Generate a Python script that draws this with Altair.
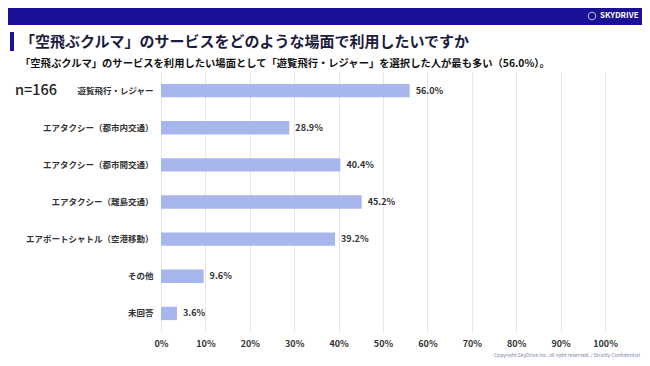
import altair as alt
import pandas as pd

categories = ["遊覧飛行・レジャー", "エアタクシー（都市内交通）", "エアタクシー（都市間交通）",
              "エアタクシー（離島交通）", "エアポートシャトル（空港移動）", "その他", "未回答"]
values = [56.0, 28.9, 40.4, 45.2, 39.2, 9.6, 3.6]
x_ticks = [0, 10, 20, 30, 40, 50, 60, 70, 80, 90, 100]

title = "「空飛ぶクルマ」のサービスをどのような場面で利用したいですか"
subtitle = "「空飛ぶクルマ」のサービスを利用したい場面として「遊覧飛行・レジャー」を選択した人が最も多い（56.0%）。"
n_label = "n=166"
copyright_txt = "Copyright SkyDrive Inc. all right reserved. / Strictly Confidential"
logo_txt = "SKYDRIVE"

FONT = "Noto Sans CJK JP"
df = pd.DataFrame({"cat": categories, "val": values,
                   "lab": [f"{v:.1f}%" for v in values]})

y_enc = alt.Y("cat:N", sort=categories,
              scale=alt.Scale(paddingInner=0.64, paddingOuter=0.32),
              axis=alt.Axis(title=None, ticks=False, domain=False, labelPadding=8,
                            labelFontSize=8.5, labelFontWeight="bold", labelColor="#333333",
                            labelFont=FONT))
x_enc = alt.X("val:Q", scale=alt.Scale(domain=[0, 100]),
              axis=alt.Axis(title=None, values=x_ticks, labelExpr="datum.value + '%'",
                            ticks=False, domain=False, grid=True, gridColor="#e6e6e6",
                            labelFlush=False,
                            labelFontSize=9, labelFontWeight="bold", labelColor="#333333",
                            labelPadding=7, labelFont=FONT))

bars = alt.Chart(df).mark_bar(color="#a8b6ee").encode(x=x_enc, y=y_enc)
texts = alt.Chart(df).mark_text(align="left", dx=6, fontSize=9, fontWeight="bold",
                                color="#333333", font=FONT).encode(
    x="val:Q", y=alt.Y("cat:N", sort=categories), text="lab:N")

one = pd.DataFrame({"t": [0]})
header = alt.Chart(one).mark_rect(color="#1a1196").encode(
    x=alt.value(-153), x2=alt.value(481), y=alt.value(-64), y2=alt.value(-47))
logo_icon = alt.Chart(one).mark_point(shape="circle", color="white", strokeWidth=1, size=60).encode(
    x=alt.value(431), y=alt.value(-56))
logo = alt.Chart(pd.DataFrame({"t": [logo_txt]})).mark_text(
    align="left", baseline="middle", fontSize=8, fontWeight="bold", color="white", font=FONT).encode(
    x=alt.value(439), y=alt.value(-56), text="t:N")
title_bar = alt.Chart(one).mark_rect(color="#1a1196").encode(
    x=alt.value(-151), x2=alt.value(-147), y=alt.value(-40), y2=alt.value(-21))
title_t = alt.Chart(pd.DataFrame({"t": [title]})).mark_text(
    align="left", baseline="middle", fontSize=15, fontWeight="bold", color="#1c1c3c", font=FONT).encode(
    x=alt.value(-141), y=alt.value(-30), text="t:N")
sub_t = alt.Chart(pd.DataFrame({"t": [subtitle]})).mark_text(
    align="left", baseline="middle", fontSize=10.3, fontWeight="bold", color="#111111", font=FONT).encode(
    x=alt.value(-141), y=alt.value(-8), text="t:N")
n_t = alt.Chart(pd.DataFrame({"t": [n_label]})).mark_text(
    align="left", baseline="middle", fontSize=14.5, fontWeight=500, color="#222222", font=FONT).encode(
    x=alt.value(-146), y=alt.value(19), text="t:N")
copy_t = alt.Chart(pd.DataFrame({"t": [copyright_txt]})).mark_text(
    align="right", baseline="middle", fontSize=5, color="#7a7fa8", font=FONT).encode(
    x=alt.value(479), y=alt.value(283), text="t:N")

chart = alt.layer(bars, texts, header, logo_icon, logo, title_bar, title_t, sub_t, n_t, copy_t).properties(
    width=444, height=260,
    autosize=alt.AutoSizeParams(type="none"),
    padding={"left": 153, "top": 64, "right": 37, "bottom": 26},
    background="white",
).configure_view(stroke=None)

chart.save("out.html", embed_options={"renderer": "svg", "actions": False})
